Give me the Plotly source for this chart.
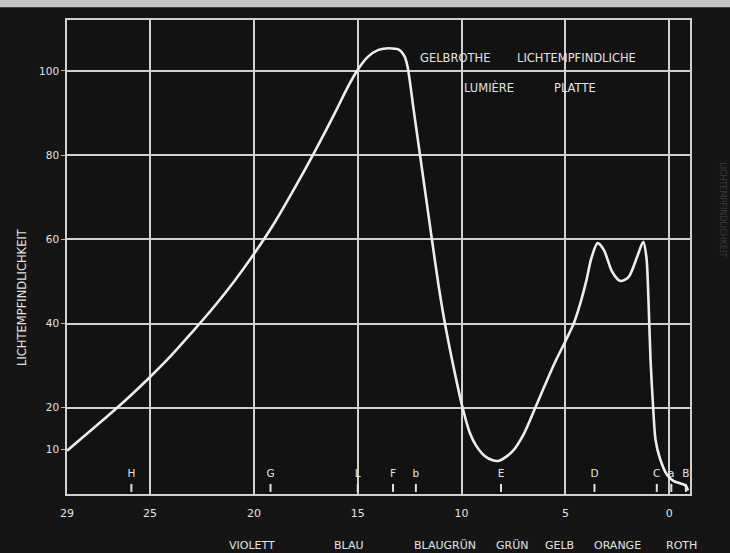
import plotly.graph_objects as go

# Spectral position (x, reversed scale) and light sensitivity (y)
curve_x = [29, 28, 27, 26, 25, 24, 23, 22, 21, 20, 19, 18, 17, 16, 15.5, 15, 14.5, 14, 13.5, 13,
           12.75, 12.6, 12.3, 12.0, 11.7, 11.4, 11.1, 10.8, 10.4, 9.95, 9.6, 9.3, 8.9, 8.5, 8.2,
           7.9, 7.55, 7.0, 6.45, 6.0, 5.5, 5.0, 4.6, 4.3, 4.0, 3.75, 3.45, 3.15, 2.75, 2.35, 1.95,
           1.55, 1.25, 1.1, 1.0, 0.9, 0.76, 0.66, 0.45, 0.1, -0.2, -0.55, -0.8, -0.9]
curve_y = [9.8, 14.0, 18.2, 22.6, 27.3, 32.3, 37.8, 43.5, 49.7, 56.5, 64.0, 72.5, 81.5, 91.0, 96.0,
           100.3, 103.4, 105.0, 105.4, 105.0, 103.5, 101, 90.5, 80, 69.5, 59, 48.8, 40, 30, 20, 14, 11,
           8.6, 7.5, 7.4, 8.2, 9.6, 13.8, 20, 25.2, 30.8, 35.8, 40, 44.5, 50, 55.5, 59.1, 57.5,
           52.3, 50.1, 51.1, 55.8, 59.4, 55.8, 45.6, 31.4, 18.8, 12.4, 8.0, 4.0, 2.6, 2.0, 1.5, 0.3]

x_tick_vals = [29, 25, 20, 15, 10, 5, 0]
x_tick_text = ["29", "25", "20", "15", "10", "5", "0"]
y_tick_vals = [10, 20, 40, 60, 80, 100]
y_grid_vals = [20, 40, 60, 80, 100]

line_labels = ["H", "G", "L", "F", "b", "E", "D", "C", "a", "B"]
line_pos = [25.9, 19.2, 15.0, 13.3, 12.2, 8.1, 3.6, 0.6, -0.1, -0.8]

color_names = ["VIOLETT", "BLAU", "BLAUGRÜN", "GRÜN", "GELB", "ORANGE", "ROTH"]
color_pos = [20.1, 15.4, 10.8, 7.55, 5.3, 2.5, -0.6]

title_words = ["GELBROTHE", "LICHTEMPFINDLICHE", "LUMIÈRE", "PLATTE"]
title_word_x = [10.32, 4.45, 8.68, 4.54]
title_word_y = [103.1, 103.1, 96.0, 96.0]

ink = "#e2e2e2"
font_family = "DejaVu Sans"

fig = go.Figure()

# Fraunhofer line marks
tx, ty = [], []
for p in line_pos:
    tx += [p, p, None]
    ty += [0, 1.9, None]
fig.add_trace(go.Scatter(x=tx, y=ty, mode="lines", line=dict(color=ink, width=2),
                         hoverinfo="skip", showlegend=False))
fig.add_trace(go.Scatter(x=line_pos, y=[4.2] * len(line_pos), mode="text", text=line_labels,
                         textfont=dict(color=ink, size=10.5, family=font_family),
                         hoverinfo="skip", showlegend=False))

# Curve
fig.add_trace(go.Scatter(x=curve_x, y=curve_y, mode="lines",
                         line=dict(color="#ededed", width=2.6, shape="spline", smoothing=0.8),
                         showlegend=False))

annotations = []
for t, xx, yy in zip(title_words, title_word_x, title_word_y):
    annotations.append(dict(x=xx, y=yy, xref="x", yref="y", text=t, showarrow=False,
                            font=dict(color=ink, size=11.5, family=font_family)))
for name, p in zip(color_names, color_pos):
    annotations.append(dict(x=p, y=-0.108, xref="x", yref="paper", text=name, showarrow=False,
                            xanchor="center", yanchor="middle",
                            font=dict(color=ink, size=11, family=font_family)))
annotations.append(dict(x=-0.072, y=0.416, xref="paper", yref="paper", text="LICHTEMPFINDLICHKEIT",
                        textangle=-90, showarrow=False, xanchor="center", yanchor="middle",
                        font=dict(color=ink, size=11.5, family=font_family)))
annotations.append(dict(x=1.052, y=0.6, xref="paper", yref="paper", text="LICHTEMPFINDLICHKEIT",
                        textangle=90, showarrow=False, xanchor="center", yanchor="middle",
                        font=dict(color="#3c3c3c", size=8, family=font_family)))

fig.update_layout(
    width=730, height=553,
    margin=dict(l=67, r=40, t=20, b=59),
    paper_bgcolor="#151515",
    plot_bgcolor="#121212",
    annotations=annotations,
    shapes=[
        dict(type="rect", xref="paper", yref="paper", x0=-0.2, x1=1.2, y0=1.027, y1=1.1,
             fillcolor="#c4c4c4", line=dict(width=0), layer="above"),
        dict(type="rect", xref="paper", yref="paper", x0=1.07, x1=1.2, y0=-0.2, y1=1.027,
             fillcolor="#262626", line=dict(width=0), layer="below"),
    ],
    xaxis=dict(
        range=[29, -1.0], tickmode="array", tickvals=x_tick_vals, ticktext=x_tick_text,
        showgrid=True, gridcolor="#d0d0d0", gridwidth=1.5,
        showline=True, linecolor="#d0d0d0", linewidth=1.5, mirror=True,
        ticks="", ticklabelstandoff=8, zeroline=False,
        tickfont=dict(color=ink, size=11, family=font_family),
    ),
    yaxis=dict(
        range=[-0.5, 112.1], tickmode="array", tickvals=y_tick_vals,
        showgrid=False, zeroline=False,
        showline=True, linecolor="#d0d0d0", linewidth=1.5, mirror=True,
        ticks="outside", ticklen=4, tickcolor="#bbbbbb", tickwidth=1,
        tickfont=dict(color=ink, size=10.5, family=font_family),
        minor=dict(tickmode="array", tickvals=y_grid_vals, showgrid=True,
                   gridcolor="#d0d0d0", gridwidth=1.5, ticks=""),
    ),
)

fig.write_html(
    "out.html",
    config={"displayModeBar": False},
    post_script="document.body.style.margin='0';document.body.style.background='#151515';",
)
